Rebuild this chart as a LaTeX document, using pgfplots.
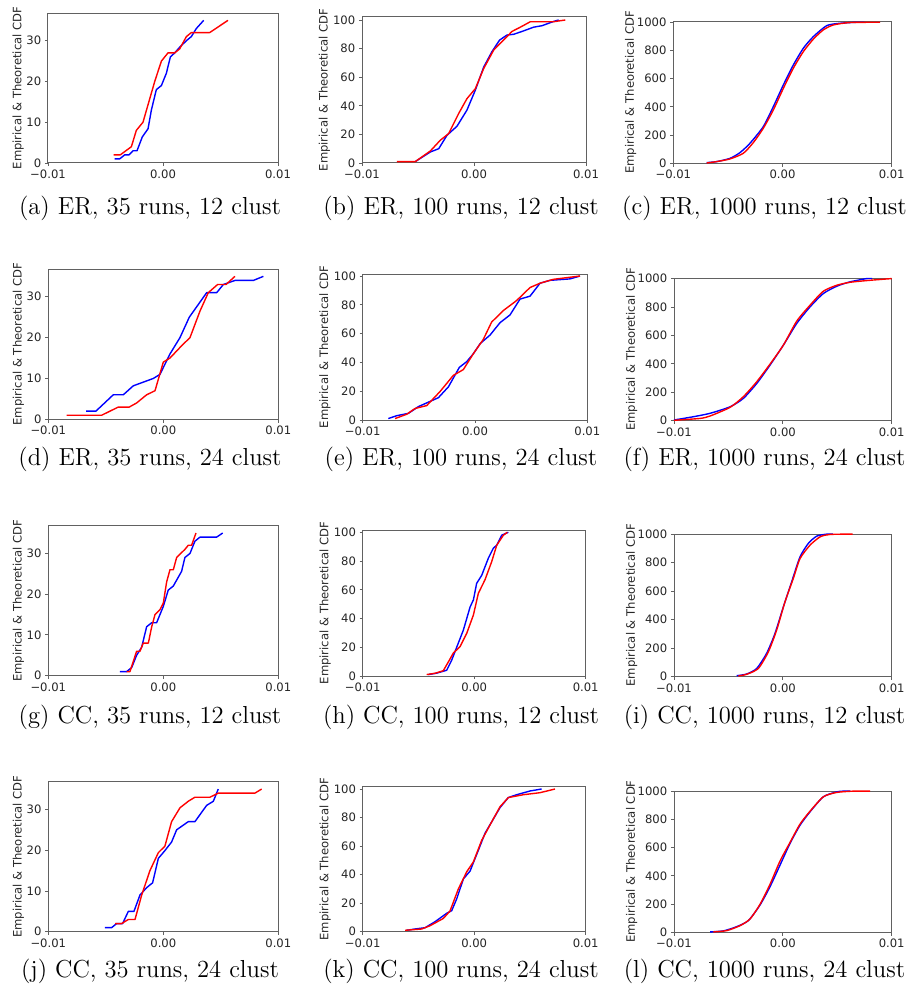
\documentclass[border=0pt]{standalone}
\usepackage{fontspec}
\usepackage{pgfplots}
\pgfplotsset{compat=1.18}
\newfontfamily\dejavu{DejaVu Sans}
\definecolor{spine}{gray}{0.38}

\pgfplotsset{
  cdf/.style={
    scale only axis, anchor=south west,
    xmin=-10, xmax=10, ymin=0, clip=false,
    xtick={-10,0,10}, xticklabels={−0.01,0.00,0.01},
    xtick pos=bottom, ytick pos=left,
    axis line style={spine, line width=0.5pt},
    tick style={spine, line width=0.45pt},
    major tick length=1.6pt, tick align=outside,
    /pgf/number format/assume math mode=true,
    /pgf/number format/1000 sep={},
    ticklabel style={font=\dejavu\fontsize{5.8}{6}\selectfont, text=black!85, inner sep=1.6pt},
    ylabel={Empirical \& Theoretical CDF},
    ylabel style={font=\dejavu\fontsize{5.8}{6}\selectfont, text=black!85, anchor=center},
  },
  c1/.style={cdf, ylabel style={at={(axis description cs:-0.130,0.5)}}, ytick={0,10,20,30}},
  c2/.style={cdf, ylabel style={at={(axis description cs:-0.168,0.5)}}, ytick={0,20,...,100}},
  c3/.style={cdf, ylabel style={at={(axis description cs:-0.195,0.5)}}, ytick={0,200,...,1000}},
  bl/.style={blue, line width=0.7pt, line join=round},
  rd/.style={red, line width=0.7pt, line join=round},
}

\begin{document}
\begin{tikzpicture}
\path[use as bounding box] (0,0) rectangle (456.5pt,-497.5pt);

% ---- row 1: ER, 12 clust
\begin{axis}[c1, at={(24pt,-81.5pt)}, width=115pt, height=75pt, ymax=36.8]
\addplot[bl] coordinates {(-4.20,1)(-3.77,1)(-3.33,2)(-2.96,2)(-2.61,3)(-2.26,3)(-1.80,6.4)(-1.30,8.4)(-1.01,13)(-0.58,18)(-0.14,19)(0.29,22)(0.64,26)(1.01,27)(1.45,28.4)(2.03,30)(2.46,31)(2.90,33)(3.54,35)};
\addplot[rd] coordinates {(-4.29,2)(-3.71,2)(-2.75,4)(-2.32,8)(-1.74,10)(-0.72,20)(-0.14,25)(0.43,27)(1.01,27)(1.45,28)(2.03,31)(2.46,32)(4.06,32)(5.65,35)};
\end{axis}
\begin{axis}[c2, at={(181pt,-81.5pt)}, width=112pt, height=73pt, ymax=102.1]
\addplot[bl] coordinates {(-5.24,1)(-3.90,7.7)(-3.15,10)(-2.41,19.4)(-1.52,25.7)(-0.63,37)(0.12,51)(0.86,67)(1.61,78)(2.29,86)(2.95,89.5)(3.54,90)(4.29,92)(5.33,95)(6.07,96)(7.11,99)(7.56,100)};
\addplot[rd] coordinates {(-6.88,1)(-5.24,1)(-3.90,8.4)(-3.01,15.9)(-2.26,20.6)(-1.37,34.6)(-0.63,45)(0.12,52)(0.86,66)(1.76,79)(2.65,86)(3.39,92)(4.14,95)(5.03,98.8)(7.11,98.8)(8.15,100)};
\end{axis}
\begin{axis}[c3, at={(336.65pt,-81.65pt)}, width=109.2pt, height=70.8pt, ymax=1004]
\addplot[bl, smooth, tension=0.4] coordinates {(-6.95,5)(-6.03,12)(-4.81,35)(-3.89,76)(-2.98,142)(-1.76,260)(-0.84,402)(0.08,556)(0.99,697)(1.91,816)(2.82,898)(4.05,976)(5.27,993)(6.79,1000)(7.5,1000)};
\addplot[rd, smooth, tension=0.4] coordinates {(-6.95,2)(-6.03,12)(-4.81,31)(-3.59,71)(-2.67,147)(-1.76,248)(-0.84,378)(0.08,532)(0.99,674)(1.91,792)(2.82,880)(3.74,946)(4.66,981)(6.18,998)(8.93,1000)};
\end{axis}

% ---- row 2: ER, 24 clust
\begin{axis}[c1, at={(24.15pt,-209.65pt)}, width=115pt, height=75.15pt, ymax=36.8]
\addplot[bl] coordinates {(-6.72,2)(-5.86,2)(-4.35,6)(-3.48,6)(-2.61,8.2)(-0.87,10)(-0.29,11)(0.58,16)(1.45,20)(2.26,25)(3.77,31)(4.64,31)(5.22,33)(6.23,34)(7.83,34)(8.70,35)};
\addplot[rd] coordinates {(-8.41,1)(-5.36,1)(-3.91,3)(-2.96,3)(-2.32,4)(-1.45,6)(-0.72,7)(0,14)(0.58,15)(1.59,18)(2.32,20)(3.19,26.5)(3.91,31)(4.72,33)(5.45,33)(6.23,35)};
\end{axis}
\begin{axis}[c2, at={(181.35pt,-210pt)}, width=112.3pt, height=73pt, ymax=101.4]
\addplot[bl] coordinates {(-7.72,1)(-6.97,3)(-5.93,4.6)(-5.04,9.3)(-3.26,15.5)(-2.37,23)(-1.39,36.6)(-0.74,40.5)(-0.15,46)(0.45,53)(1.34,59)(2.23,67.6)(3.12,73)(4.01,84)(4.90,86)(5.79,95)(6.68,97)(8.46,98)(9.35,100)};
\addplot[rd] coordinates {(-7.12,1)(-6.08,4)(-5.34,8)(-4.30,10)(-3.12,19.7)(-1.93,31)(-1.04,35)(-0.15,46)(0.74,56)(1.48,68)(2.52,76)(3.71,83)(4.90,92)(5.79,95)(6.97,97.7)(9.35,100)};
\end{axis}
\begin{axis}[c3, at={(337pt,-210.35pt)}, width=108.85pt, height=71.2pt, ymax=1002]
\addplot[bl, smooth, tension=0.4] coordinates {(-10,5)(-8.22,28)(-6.69,52)(-4.85,98)(-3.63,157)(-2.40,262)(-1.18,391)(0.05,532)(1.27,684)(2.50,801)(3.72,895)(4.95,946)(6.17,977)(7.70,1000)(8.2,1000)};
\addplot[rd, smooth, tension=0.4] coordinates {(-10,3)(-7.61,16)(-6.69,33)(-4.85,94)(-3.63,169)(-2.40,274)(-1.18,398)(0.05,532)(1.27,700)(2.50,813)(3.72,911)(4.95,953)(6.17,974)(8.01,988)(10,1000)};
\end{axis}

% ---- row 3: CC, 12 clust
\begin{axis}[c1, at={(24.15pt,-337.85pt)}, width=115pt, height=75pt, ymax=36.8]
\addplot[bl] coordinates {(-3.77,1)(-3.19,1)(-2.75,2)(-2.32,5)(-1.88,7)(-1.45,12)(-1.01,13)(-0.58,13)(0,17)(0.43,21)(0.87,22)(1.59,25.6)(1.88,29)(2.32,30)(2.75,33)(3.19,34)(4.64,34)(5.16,35)};
\addplot[rd] coordinates {(-3.19,1)(-2.90,1)(-2.32,6)(-2.03,6)(-1.74,8)(-1.30,8)(-1.01,12)(-0.72,15)(-0.29,16.2)(0,17.8)(0.29,23)(0.58,26)(0.87,26)(1.16,29)(1.88,31)(2.17,32)(2.46,32)(2.84,35)};
\end{axis}
\begin{axis}[c2, at={(181.35pt,-338pt)}, width=111.5pt, height=73pt, ymax=101.6]
\addplot[bl] coordinates {(-4.11,1)(-3.36,2)(-2.47,4)(-2.02,11)(-1.57,20)(-0.97,32)(-0.37,48)(-0.07,53)(0.22,64.5)(0.67,70)(1.27,82)(1.72,89)(2.02,91)(2.47,98)(3.06,100)};
\addplot[rd] coordinates {(-4.26,1)(-3.51,1.9)(-2.77,3.7)(-2.23,11)(-1.87,16)(-1.27,20.4)(-0.67,29.7)(-0.07,42.5)(0.37,57.5)(0.97,67)(1.57,79.6)(2.02,91)(2.62,98)(2.97,100)};
\end{axis}
\begin{axis}[c3, at={(337pt,-338.35pt)}, width=108.85pt, height=71.35pt, ymax=1001]
\addplot[bl, smooth, tension=0.4] coordinates {(-4.24,7)(-3.32,19)(-2.40,58)(-1.49,164)(-0.72,304)(0.05,491)(0.81,666)(1.58,841)(2.34,935)(3.11,986)(4.03,1000)(4.6,1000)};
\addplot[rd, smooth, tension=0.4] coordinates {(-4.09,5)(-3.32,17)(-2.25,58)(-1.33,175)(-0.57,327)(0.20,526)(0.96,689)(1.58,829)(2.50,923)(3.42,981)(4.33,998)(6.42,1000)};
\end{axis}

% ---- row 4: CC, 24 clust
\begin{axis}[c1, at={(24.15pt,-465.85pt)}, width=115pt, height=75pt, ymax=36.8]
\addplot[bl] coordinates {(-5.07,1)(-4.49,1)(-4.06,2)(-3.54,2)(-3.04,5)(-2.55,5)(-2.03,9)(-1.45,10.8)(-0.93,12)(-0.43,18)(0.14,19.9)(0.72,22)(1.16,25)(2.17,27)(2.75,27)(3.77,31)(4.35,32)(4.78,35)};
\addplot[rd] coordinates {(-4.20,2)(-3.62,2)(-3.04,3)(-2.46,3)(-1.88,9)(-1.16,15)(-0.43,19.4)(0.14,21)(0.72,27)(1.45,30.4)(2.17,32)(2.75,33)(4.06,33)(4.78,34)(7.97,34)(8.55,35)};
\end{axis}
\begin{axis}[c2, at={(181.35pt,-465.85pt)}, width=111.5pt, height=72.5pt, ymax=101.6]
\addplot[bl] coordinates {(-6.05,1)(-5.31,1.9)(-4.41,2.8)(-3.51,7)(-2.47,12.9)(-2.02,14.7)(-1.57,23)(-0.97,37)(-0.37,42.5)(0.37,57)(0.97,69)(1.57,77)(2.32,87)(3.06,94)(3.81,96)(5.01,98.6)(6.05,100)};
\addplot[rd] coordinates {(-6.20,1)(-4.71,1.9)(-3.96,4.2)(-2.77,9.3)(-2.17,14.5)(-1.42,30)(-0.67,42)(-0.07,49)(0.67,64)(1.57,77)(2.32,87.6)(3.06,94)(4.41,96)(5.90,97.4)(7.25,100)};
\end{axis}
\begin{axis}[c3, at={(337pt,-466.15pt)}, width=108.85pt, height=70.65pt, ymax=1001]
\addplot[bl, smooth, tension=0.4] coordinates {(-6.69,3)(-5.47,10)(-4.24,40)(-3.17,83)(-2.10,193)(-1.18,323)(-0.26,476)(0.66,630)(1.58,759)(2.50,854)(3.72,960)(4.95,995)(5.56,1000)(6.2,1000)};
\addplot[rd, smooth, tension=0.4] coordinates {(-6.39,3)(-5.16,12)(-3.94,47)(-3.02,94)(-2.10,198)(-1.18,340)(-0.26,505)(0.66,637)(1.58,767)(2.50,858)(3.72,960)(4.95,991)(6.48,1000)(8.01,1000)};
\end{axis}

% ---- subfigure captions
\begin{scope}[every node/.style={font=\fontsize{12.3}{14}\selectfont, inner sep=0pt}]
\node at (75pt,-104pt) {(a) ER, 35 runs, 12 clust};
\node at (230.5pt,-104pt) {(b) ER, 100 runs, 12 clust};
\node at (382.25pt,-104pt) {(c) ER, 1000 runs, 12 clust};
\node at (75pt,-229.5pt) {(d) ER, 35 runs, 24 clust};
\node at (230.5pt,-229.5pt) {(e) ER, 100 runs, 24 clust};
\node at (382.25pt,-229.5pt) {(f) ER, 1000 runs, 24 clust};
\node at (75pt,-358.5pt) {(g) CC, 35 runs, 12 clust};
\node at (230.5pt,-358.5pt) {(h) CC, 100 runs, 12 clust};
\node at (382.25pt,-358.5pt) {(i) CC, 1000 runs, 12 clust};
\node at (75pt,-485.5pt) {(j) CC, 35 runs, 24 clust};
\node at (230.5pt,-485.5pt) {(k) CC, 100 runs, 24 clust};
\node at (382.25pt,-485.5pt) {(l) CC, 1000 runs, 24 clust};
\end{scope}
\end{tikzpicture}
\end{document}
